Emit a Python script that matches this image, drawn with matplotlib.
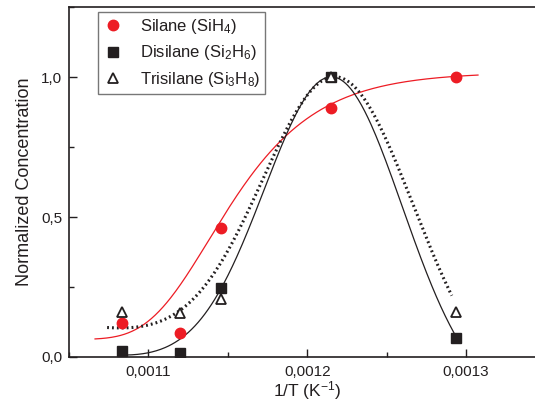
import numpy as np
import matplotlib
matplotlib.use("Agg")
import matplotlib.pyplot as plt
from matplotlib.ticker import FuncFormatter, MultipleLocator

plt.rcParams['font.family'] = ['Liberation Sans', 'DejaVu Sans']
plt.rcParams['mathtext.fontset'] = 'custom'
plt.rcParams['mathtext.rm'] = 'Liberation Sans'
plt.rcParams['mathtext.it'] = 'Liberation Sans:italic'

# measured points, x = 1/T (K^-1)
inv_T = [0.0010834, 0.0011198, 0.0011455, 0.0012151, 0.0012937]
silane = [0.12, 0.085, 0.46, 0.89, 1.0]
disilane = [0.023, 0.013, 0.246, 1.0, 0.067]
trisilane = [0.16, 0.158, 0.206, 1.0, 0.162]

# fit curves (x in units of 1e-3 K^-1)
silane_fit = [0.0626846, 1.01706, 1.00537, 0.0373038, 35.1267]     # Richards
disilane_fit = [-0.0856949, -0.707053, 1.0974, 1.21638, 0.0434178]  # Gauss + linear base
trisilane_fit = [-0.0243711, -0.955797, 1.0429, 1.21932, 0.0472819]
silane_range = (1.0664, 1.3075)
disilane_range = (1.0855, 1.2931)
trisilane_range = (1.074, 1.291)


def richards(u, p):
    a1, a2, u0, w, m = p
    return a1 + (a2 - a1) / (1 + np.exp(-(u - u0) / w))**m


def gausslin(u, p):
    y0, s, A, uc, w = p
    return y0 + s * (u - 1.2) + A * np.exp(-0.5 * ((u - uc) / w)**2)


fig = plt.figure(figsize=(5.35, 4.05), dpi=100)
ax = fig.add_axes([69/535, 1 - 357/405, 476.5/535, 350/405])

red = '#ED1C24'
dark = '#231F20'

u = np.linspace(*silane_range, 300)
ax.plot(u * 1e-3, richards(u, silane_fit), color=red, lw=0.9, zorder=2)
u = np.linspace(*disilane_range, 300)
ax.plot(u * 1e-3, gausslin(u, disilane_fit), color=dark, lw=0.9, zorder=2)
u = np.linspace(*trisilane_range, 300)
ax.plot(u * 1e-3, gausslin(u, trisilane_fit), color=dark, lw=2.2,
        linestyle=(0, (0.6, 1.0)), zorder=2)

ax.plot(inv_T, silane, 'o', color=red, ms=7.5, mec=red, zorder=3,
        label='Silane (SiH$_4$)')
ax.plot(inv_T, disilane, 's', color=dark, ms=6.5, mec=dark, zorder=3,
        label='Disilane (Si$_2$H$_6$)')
ax.plot(inv_T, trisilane, '^', color=dark, mfc='white', ms=7, mew=1.3, zorder=4,
        label='Trisilane (Si$_3$H$_8$)')

ax.set_xlim(0.00105, 0.00135)
ax.set_ylim(0, 1.25)
ax.xaxis.set_major_locator(MultipleLocator(0.0001))
ax.xaxis.set_minor_locator(MultipleLocator(0.00005))
ax.yaxis.set_major_locator(MultipleLocator(0.5))
ax.yaxis.set_minor_locator(MultipleLocator(0.25))
ax.xaxis.set_major_formatter(FuncFormatter(lambda v, p: ('%.4f' % v).replace('.', ',')))
ax.yaxis.set_major_formatter(FuncFormatter(lambda v, p: ('%.1f' % v).replace('.', ',')))
ax.tick_params(which='both', direction='in', labelsize=11, color=dark, labelcolor=dark)
ax.tick_params(which='major', length=6, width=1)
ax.tick_params(which='minor', length=3.5, width=1)
ax.tick_params(axis='x', pad=6)
ax.tick_params(axis='y', pad=5)
for s in ax.spines.values():
    s.set_linewidth(1.2)
    s.set_color(dark)

ax.set_xlabel('1/T (K$^{-1}$)', fontsize=12.5, color=dark, labelpad=0)
ax.set_ylabel('Normalized Concentration', fontsize=13, color=dark, labelpad=6)

leg = ax.legend(loc='upper left', bbox_to_anchor=(0.061, 0.986), borderaxespad=0,
                fontsize=12, frameon=True, fancybox=False, framealpha=1,
                edgecolor='#777777', handlelength=1.2, handletextpad=1.0,
                labelspacing=0.45, borderpad=0.3)
leg.get_frame().set_linewidth(1.0)
for t in leg.get_texts():
    t.set_color(dark)

fig.savefig('out.png', dpi=100)
